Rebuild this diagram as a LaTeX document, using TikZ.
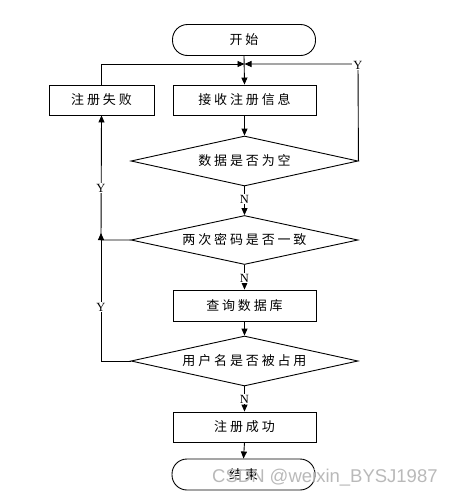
\documentclass[tikz,border=0pt]{standalone}
\usepackage{fontspec}
\setmainfont{Liberation Serif}
\newfontfamily\cjk[LetterSpace=22]{Noto Sans CJK SC}
\newfontfamily\wmfont{Liberation Sans}
\usetikzlibrary{shapes.geometric,arrows.meta}
\definecolor{wm}{RGB}{185,185,185}
\begin{document}
\begin{tikzpicture}[x=1pt,y=-1pt,
  base/.style={draw,line width=0.9pt,inner sep=0pt,font=\cjk\fontsize{13}{13}\selectfont},
  term/.style={base,rectangle,rounded corners=15pt,minimum width=143pt,minimum height=31pt},
  proc/.style={base,rectangle,minimum width=143pt,minimum height=30pt},
  dec/.style={base,diamond,aspect=4.5,minimum width=227pt,minimum height=50pt},
  lab/.style={fill=white,inner sep=1pt,font=\fontsize{12.5}{12.5}\selectfont},
  conn/.style={line width=0.9pt},
  arr/.style={conn,-{Triangle[length=7pt,width=6pt]}}]
\useasboundingbox (0,0) rectangle (455,498);
\node[term] (start) at (244,40) {开始};
\node[proc] (recv) at (244.5,100) {接收注册信息};
\node[proc,minimum width=105pt] (fail) at (101.5,100) {注册失败};
\node[dec] (d1) at (244.5,161) {数据是否为空};
\node[dec,minimum height=49pt] (d2) at (244.5,240) {两次密码是否一致};
\node[proc,minimum height=31pt] (query) at (244.5,305.5) {查询数据库};
\node[dec] (d3) at (244.5,361) {用户名是否被占用};
\node[proc] (succ) at (244.5,427) {注册成功};
\node[term] (end) at (243.5,474.5) {结束};
\coordinate (J) at (244.5,64);
\coordinate (YR) at (358,64);
\coordinate (LJ) at (101,240);
\coordinate (LJa) at (101,233);
% connectors
\draw[arr] (start.south) -- (recv.north);
\draw[arr] (fail.north) |- (J);
\draw[arr] (d1.east) -- (YR) -- (J);
\node[lab] (y1) at (358,65) {Y};
\draw[arr] (recv.south) -- (d1.north);
\draw[arr] (d1.south) -- (d2.north);
\node[lab] (n1) at (244.5,199) {N};
\draw[arr] (d2.west) -- (LJ) -- (fail.south);
\node[lab] (y2) at (101,188) {Y};
\draw[arr] (d3.west) -| (LJa);
\node[lab] (y3) at (101,307) {Y};
\draw[arr] (d2.south) -- (query.north);
\node[lab] (n2) at (244.5,278) {N};
\draw[arr] (query.south) -- (d3.north);
\draw[arr] (d3.south) -- (succ.north);
\node[lab] (n3) at (244.5,399) {N};
\draw[arr] (succ.south) -- (end.north);
\node[anchor=west,inner sep=0pt,text=wm,font=\wmfont\fontsize{18.5}{18.5}\selectfont] (wmk) at (212,478) {CSDN @weixin\_BYSJ1987};
\end{tikzpicture}
\end{document}
